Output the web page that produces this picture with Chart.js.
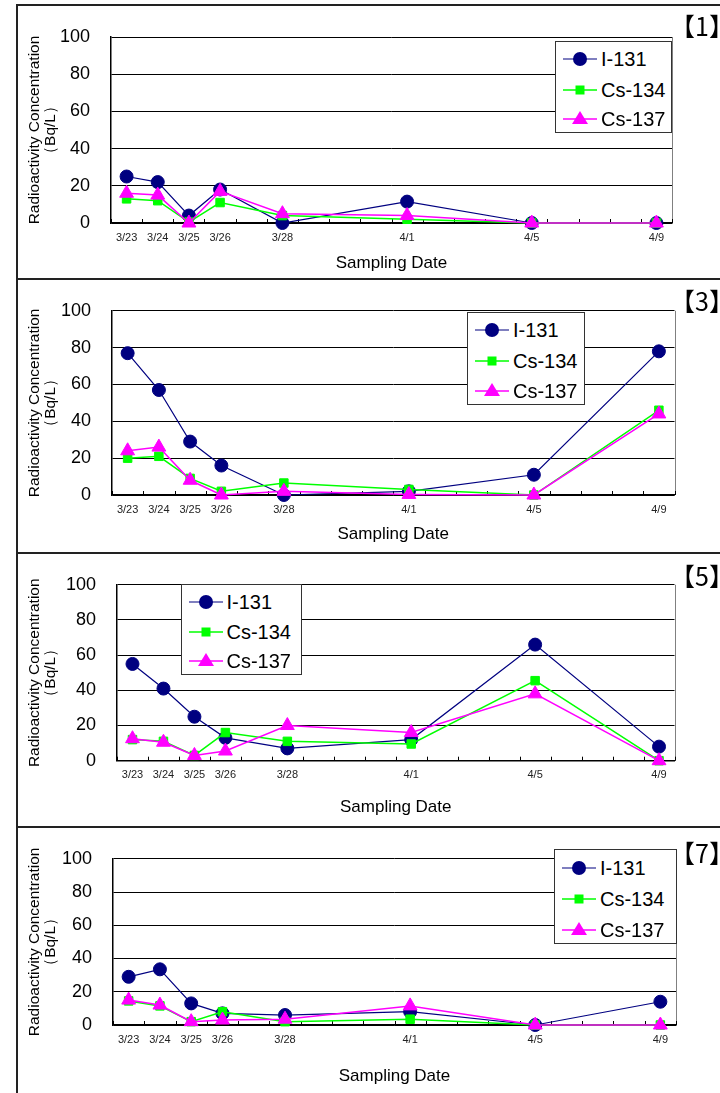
<!DOCTYPE html>
<html><head><meta charset="utf-8">
<script src="https://cdn.jsdelivr.net/npm/chart.js@4"></script>
<style>
html,body{margin:0;padding:0;background:#fff;width:720px;height:1093px;overflow:hidden;position:relative;font-family:"Liberation Sans",Arial,sans-serif;}
.panel{position:absolute;left:16px;width:800px;height:276px;border-top:2px solid #222;border-left:2px solid #222;box-sizing:border-box;}
canvas{position:absolute;left:0;}
.tag{position:absolute;font-family:"Noto Sans CJK JP",sans-serif;font-size:25px;line-height:1;white-space:nowrap;color:#000;transform:translateY(-50%);}
.legend{position:absolute;background:#fff;border:1px solid #333;box-sizing:border-box;}
.legend .item{position:absolute;height:30px;font-size:20px;line-height:30px;color:#000;white-space:nowrap;}
.legend svg{position:absolute;top:0;}
</style></head><body>
<script>
// ---- data ----
const allDays = ['3/23','3/24','3/25','3/26','3/27','3/28','3/29','3/30','3/31','4/1','4/2','4/3','4/4','4/5','4/6','4/7','4/8','4/9'];
const sampleDates = ['3/23','3/24','3/25','3/26','3/28','4/1','4/5','4/9'];
const yTicks = [0,20,40,60,80,100];
const seriesNames = ['I-131','Cs-134','Cs-137'];
const panelTags = ['【1】','【3】','【5】','【7】'];

const p1_I131  = [25, 22, 4, 18, 0, 11.5, 0, 0];
const p1_Cs134 = [13, 12, 0.5, 11, 4, 2, 0, 0];
const p1_Cs137 = [16, 15, 0, 17, 5, 4, 0, 0];

const p3_I131  = [77, 57, 29, 16, 0, 2, 11, 78];
const p3_Cs134 = [20, 21, 9, 2, 6.5, 3, 0, 46];
const p3_Cs137 = [24, 26, 8, 0, 2, 0.3, 0, 44];

const p5_I131  = [55, 41, 25, 13, 7, 12, 66, 8];
const p5_Cs134 = [12, 11, 3, 16, 11, 9.5, 45.5, 0];
const p5_Cs137 = [12.5, 10.5, 3, 5.5, 20, 16, 38, 0];

const p7_I131  = [29, 33.5, 13, 7, 6, 8, 0, 14];
const p7_Cs134 = [14.5, 11.5, 2, 8, 2, 3.5, 0, 0];
const p7_Cs137 = [15, 12, 2, 3, 3.5, 11.5, 0, 0];

const panelData = [
  [p1_I131, p1_Cs134, p1_Cs137],
  [p3_I131, p3_Cs134, p3_Cs137],
  [p5_I131, p5_Cs134, p5_Cs137],
  [p7_I131, p7_Cs134, p7_Cs137]
];

// ---- layout / style ----
const colors = ['#000080', '#00FF00', '#FF00FF'];
const layout = [
  {top:5,   L:111, R:672,   T:37,    B:223,   title:263,   leg:[555,41,117,92],   tag:[670,25]},
  {top:279, L:112, R:674.5, T:307.7, B:495,   title:534,   leg:[467,312,118,93],  tag:[670,300]},
  {top:553, L:117, R:674.5, T:581.7, B:760.7, title:807.7, leg:[180.5,584,121.5,91], tag:[670,575]},
  {top:827, L:113, R:676,   T:853,   B:1025,  title:1076.7,leg:[554,849,123,95],  tag:[670,852]}
];
const FONT = '"Liberation Sans", Arial, sans-serif';

const framePlugin = {
  id: 'frame',
  beforeDatasetsDraw(chart) {
    const {ctx, chartArea: a, scales: {x}} = chart;
    ctx.save();
    ctx.strokeStyle = '#808080';
    ctx.lineWidth = 1;
    ctx.beginPath();
    ctx.moveTo(Math.round(a.right) + 0.5, a.top);
    ctx.lineTo(Math.round(a.right) + 0.5, a.bottom);
    ctx.stroke();
    const step = x.getPixelForValue(1) - x.getPixelForValue(0);
    ctx.strokeStyle = '#000';
    ctx.beginPath();
    for (let i = 0; i <= allDays.length; i++) {
      const px = Math.round(x.getPixelForValue(i) - step / 2) + 0.5;
      ctx.moveTo(px, a.bottom);
      ctx.lineTo(px, a.bottom - 4);
    }
    ctx.stroke();
    ctx.restore();
  }
};

function symbolSvg(k) {
  const c = colors[k];
  let m = '';
  if (k === 0) m = `<circle cx="17" cy="15" r="7" fill="${c}"/>`;
  else if (k === 1) m = `<rect x="12.5" y="10.5" width="9" height="9" fill="${c}"/>`;
  else m = `<polygon points="17,7 25,20 9,20" fill="${c}"/>`;
  return `<svg width="36" height="30"><line x1="0" y1="15" x2="34" y2="15" stroke="${c}" stroke-width="${k===0?1.2:1.5}"/>${m}</svg>`;
}

function makePanel(idx) {
  const p = layout[idx];
  const vals = panelData[idx];

  const box = document.createElement('div');
  box.className = 'panel';
  box.style.top = (p.top - 1) + 'px';
  document.body.appendChild(box);

  const cv = document.createElement('canvas');
  cv.width = 720; cv.height = 274;
  cv.style.top = p.top + 'px';
  cv.style.width = '720px'; cv.style.height = '274px';
  document.body.appendChild(cv);

  const padLeft = 27;
  const W = p.L - padLeft;
  const titleLH = 20;
  const H = p.title - p.B + titleLH / 2;
  const padTop = p.T - p.top;
  const padRight = 720 - p.R;
  const padBottom = 274 - (p.B - p.top) - H;

  const styles = [
    {pointStyle:'circle', pointRadius:6.5, borderWidth:1.2, order:3},
    {pointStyle:'rect', pointRadius:6, borderWidth:1.5, order:2},
    {pointStyle:'triangle', pointRadius:8, borderWidth:1.5, order:1}
  ];

  const datasets = seriesNames.map((name, k) => Object.assign({
    label: name,
    data: sampleDates.map((d, i) => ({x: d, y: vals[k][i]})),
    borderColor: colors[k],
    backgroundColor: colors[k],
    pointBackgroundColor: colors[k],
    pointBorderColor: colors[k],
    pointBorderWidth: 1,
    tension: 0,
    clip: false
  }, styles[k]));

  new Chart(cv, {
    type: 'line',
    data: {labels: allDays, datasets},
    plugins: [framePlugin],
    options: {
      responsive: false,
      animation: false,
      events: [],
      layout: {padding: {left: padLeft, right: padRight, top: padTop, bottom: padBottom}},
      plugins: {legend: {display: false}, tooltip: {enabled: false}},
      scales: {
        x: {
          type: 'category',
          offset: true,
          grid: {display: false, drawTicks: false},
          border: {display: true, color: '#000', width: 1.5},
          ticks: {
            autoSkip: false, maxRotation: 0, minRotation: 0, padding: 8,
            color: '#222', font: {family: FONT, size: 11},
            callback: function(v) { const l = this.getLabelForValue(v); return sampleDates.includes(l) ? l : ''; }
          },
          title: {display: true, text: 'Sampling Date', color: '#000', padding: 0,
                  font: {family: FONT, size: 17, lineHeight: titleLH / 17}},
          afterFit: s => { s.height = H; }
        },
        y: {
          min: yTicks[0], max: yTicks[yTicks.length - 1],
          afterBuildTicks: s => { s.ticks = yTicks.map(v => ({value: v})); },
          grid: {color: '#000', lineWidth: 1, drawTicks: false},
          border: {display: true, color: '#000', width: 1.5},
          ticks: {padding: 21, color: '#000', font: {family: FONT, size: 18}},
          title: {display: true, text: ['Radioactivity Concentration', '（Bq/L）'], color: '#000', padding: 0,
                  font: {family: FONT, size: 15.5, lineHeight: 1.03}},
          afterFit: s => { s.width = W; }
        }
      }
    }
  });

  // legend (HTML)
  const lg = document.createElement('div');
  lg.className = 'legend';
  const [lx, ly, lw, lh] = p.leg;
  lg.style.left = lx + 'px'; lg.style.top = ly + 'px';
  lg.style.width = lw + 'px'; lg.style.height = lh + 'px';
  const rowC = [17, 47.5, 77];
  seriesNames.forEach((name, k) => {
    const it = document.createElement('div');
    it.className = 'item';
    it.style.left = '7px';
    it.style.top = (rowC[k] * lh / 92 - 15) + 'px';
    it.innerHTML = symbolSvg(k) + `<span style="position:absolute;left:38px;top:0">${name}</span>`;
    lg.appendChild(it);
  });
  document.body.appendChild(lg);

  const tg = document.createElement('div');
  tg.className = 'tag';
  tg.style.left = p.tag[0] + 'px';
  tg.style.top = p.tag[1] + 'px';
  tg.textContent = panelTags[idx];
  document.body.appendChild(tg);
}

for (let i = 0; i < 4; i++) makePanel(i);
</script>
</body></html>
